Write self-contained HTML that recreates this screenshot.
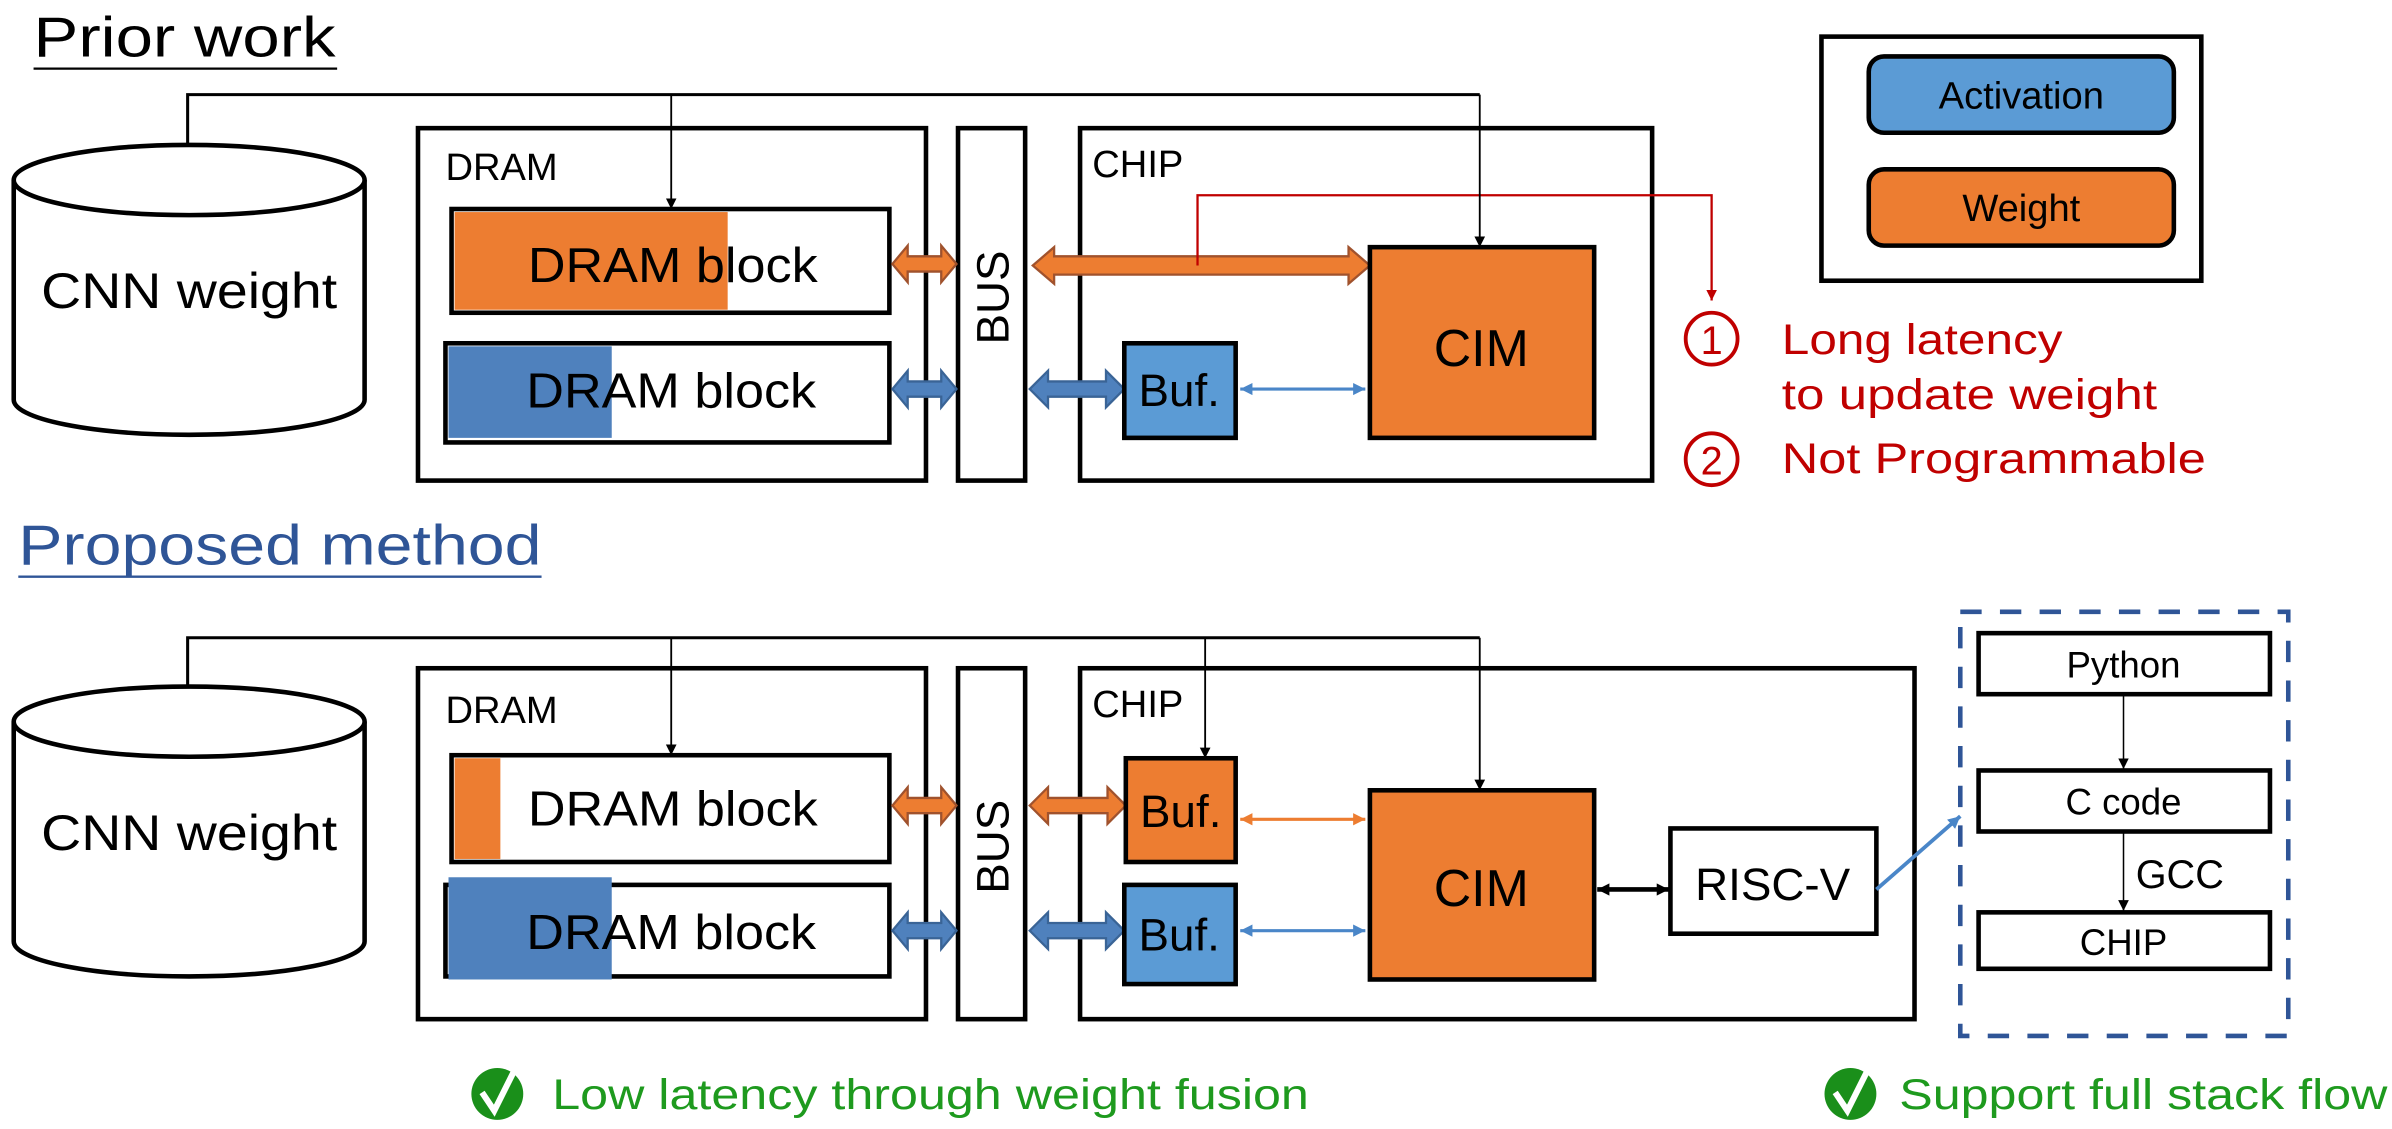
<!DOCTYPE html>
<html><head><meta charset="utf-8"><style>
html,body{margin:0;padding:0;background:#fff}
svg{display:block}
text{font-family:"Liberation Sans","DejaVu Sans",sans-serif}
</style></head><body>
<svg width="2392" height="1129" viewBox="0 0 1568 740" preserveAspectRatio="none" xmlns="http://www.w3.org/2000/svg">
<defs>
<marker id="ak" viewBox="0 0 10 10" refX="10" refY="5" markerWidth="7" markerHeight="9" orient="auto" markerUnits="userSpaceOnUse"><path d="M0,0L10,5L0,10z" fill="#000"/></marker>
<marker id="ar" viewBox="0 0 10 10" refX="10" refY="5" markerWidth="7" markerHeight="9" orient="auto" markerUnits="userSpaceOnUse"><path d="M0,0L10,5L0,10z" fill="#C00000"/></marker>
<marker id="ab" viewBox="0 0 10 10" refX="10" refY="5" markerWidth="8" markerHeight="10" orient="auto-start-reverse" markerUnits="userSpaceOnUse"><path d="M0,0L10,5L0,10z" fill="#4A86C8"/></marker>
<marker id="ao" viewBox="0 0 10 10" refX="10" refY="5" markerWidth="8" markerHeight="10" orient="auto-start-reverse" markerUnits="userSpaceOnUse"><path d="M0,0L10,5L0,10z" fill="#ED7D31"/></marker>
<marker id="akk" viewBox="0 0 10 10" refX="10" refY="5" markerWidth="8" markerHeight="10" orient="auto-start-reverse" markerUnits="userSpaceOnUse"><path d="M0,0L10,5L0,10z" fill="#000"/></marker>
</defs>

<!-- ===== Prior work ===== -->
<text x="22" y="37" font-size="37" textLength="198" lengthAdjust="spacingAndGlyphs">Prior work</text>
<line x1="22" y1="45" x2="221" y2="45" stroke="#000" stroke-width="1.5"/>

<path d="M9,118 V262 A115,23 0 0 0 239,262 V118" fill="#fff" stroke="#000" stroke-width="3"/>
<ellipse cx="124" cy="118" rx="115" ry="23" fill="#fff" stroke="#000" stroke-width="3"/>
<text x="124" y="202" font-size="33" text-anchor="middle" textLength="194" lengthAdjust="spacingAndGlyphs">CNN weight</text>

<rect x="274" y="84" width="333" height="231" fill="#fff" stroke="#000" stroke-width="3"/>
<text x="292" y="118" font-size="25">DRAM</text>
<rect x="296" y="137" width="287" height="68" fill="#fff" stroke="#000" stroke-width="3"/>
<rect x="298" y="139" width="179" height="64" fill="#ED7D31"/>
<text x="441" y="185" font-size="32" text-anchor="middle" textLength="190" lengthAdjust="spacingAndGlyphs">DRAM block</text>
<rect x="292" y="225" width="291" height="65" fill="#fff" stroke="#000" stroke-width="3"/>
<rect x="294" y="227" width="107" height="60" fill="#4F81BD"/>
<text x="440" y="267" font-size="32" text-anchor="middle" textLength="190" lengthAdjust="spacingAndGlyphs">DRAM block</text>

<rect x="628" y="84" width="44" height="231" fill="#fff" stroke="#000" stroke-width="3"/>
<text transform="translate(661,195) rotate(-90)" font-size="30" text-anchor="middle">BUS</text>

<rect x="708" y="84" width="375" height="231" fill="#fff" stroke="#000" stroke-width="3"/>
<text x="716" y="116" font-size="25">CHIP</text>

<polygon points="585,173 595,161 595,168 617,168 617,161 627,173 617,185 617,178 595,178 595,185" fill="#ED7D31" stroke="#A0522D" stroke-width="1.5"/>
<polygon points="677,174 691,162 691,168 884,168 884,162 898,174 884,186 884,180 691,180 691,186" fill="#ED7D31" stroke="#A0522D" stroke-width="1.5"/>
<polygon points="585,255 595,243 595,250 617,250 617,243 627,255 617,267 617,260 595,260 595,267" fill="#4F81BD" stroke="#3A6496" stroke-width="1.5"/>
<polygon points="675,255 687,243 687,250 725,250 725,243 737,255 725,267 725,260 687,260 687,267" fill="#4F81BD" stroke="#3A6496" stroke-width="1.5"/>

<rect x="737" y="225" width="73" height="62" fill="#5B9BD5" stroke="#000" stroke-width="3"/>
<text x="773" y="266" font-size="30" text-anchor="middle">Buf.</text>
<line x1="813" y1="255" x2="895" y2="255" stroke="#4A86C8" stroke-width="2" marker-start="url(#ab)" marker-end="url(#ab)"/>

<rect x="898" y="162" width="147" height="125" fill="#ED7D31" stroke="#000" stroke-width="3"/>
<text x="971" y="240" font-size="34" text-anchor="middle">CIM</text>

<polyline points="785,174 785,128 1122,128 1122,197" fill="none" stroke="#C00000" stroke-width="1.5" marker-end="url(#ar)"/>
<circle cx="1122" cy="222" r="17" fill="none" stroke="#C00000" stroke-width="2.5"/>
<text x="1122" y="232" font-size="26" fill="#C00000" text-anchor="middle">1</text>
<circle cx="1122" cy="301" r="17" fill="none" stroke="#C00000" stroke-width="2.5"/>
<text x="1122" y="311" font-size="26" fill="#C00000" text-anchor="middle">2</text>
<text x="1168" y="232" font-size="28" fill="#C00000" textLength="184" lengthAdjust="spacingAndGlyphs">Long latency</text>
<text x="1168" y="268" font-size="28" fill="#C00000" textLength="246" lengthAdjust="spacingAndGlyphs">to update weight</text>
<text x="1168" y="310" font-size="28" fill="#C00000" textLength="278" lengthAdjust="spacingAndGlyphs">Not Programmable</text>

<rect x="1194" y="24" width="249" height="160" fill="#fff" stroke="#000" stroke-width="3"/>
<rect x="1225" y="37" width="200" height="50" rx="10" fill="#5B9BD5" stroke="#000" stroke-width="3"/>
<text x="1325" y="71" font-size="25" text-anchor="middle">Activation</text>
<rect x="1225" y="111" width="200" height="50" rx="10" fill="#ED7D31" stroke="#000" stroke-width="3"/>
<text x="1325" y="145" font-size="25" text-anchor="middle">Weight</text>

<!-- top connectors (drawn on top) -->
<polyline points="123,95 123,62 970,62" fill="none" stroke="#000" stroke-width="2"/>
<line x1="440" y1="62" x2="440" y2="137" stroke="#000" stroke-width="1.2" marker-end="url(#ak)"/>
<line x1="970" y1="62" x2="970" y2="162" stroke="#000" stroke-width="1.2" marker-end="url(#ak)"/>

<!-- ===== Proposed ===== -->
<text x="12" y="370" font-size="37" fill="#2F5597" textLength="343" lengthAdjust="spacingAndGlyphs">Proposed method</text>
<line x1="12" y1="378" x2="355" y2="378" stroke="#2F5597" stroke-width="1.5"/>

<path d="M9,473 V617 A115,23 0 0 0 239,617 V473" fill="#fff" stroke="#000" stroke-width="3"/>
<ellipse cx="124" cy="473" rx="115" ry="23" fill="#fff" stroke="#000" stroke-width="3"/>
<text x="124" y="557" font-size="33" text-anchor="middle" textLength="194" lengthAdjust="spacingAndGlyphs">CNN weight</text>

<rect x="274" y="438" width="333" height="230" fill="#fff" stroke="#000" stroke-width="3"/>
<text x="292" y="474" font-size="25">DRAM</text>
<rect x="296" y="495" width="287" height="70" fill="#fff" stroke="#000" stroke-width="3"/>
<rect x="298" y="497" width="30" height="66" fill="#ED7D31"/>
<text x="441" y="541" font-size="32" text-anchor="middle" textLength="190" lengthAdjust="spacingAndGlyphs">DRAM block</text>
<rect x="292" y="580" width="291" height="60" fill="#fff" stroke="#000" stroke-width="3"/>
<rect x="294" y="575" width="107" height="67" fill="#4F81BD"/>
<text x="440" y="622" font-size="32" text-anchor="middle" textLength="190" lengthAdjust="spacingAndGlyphs">DRAM block</text>

<rect x="628" y="438" width="44" height="230" fill="#fff" stroke="#000" stroke-width="3"/>
<text transform="translate(661,555) rotate(-90)" font-size="30" text-anchor="middle">BUS</text>

<rect x="708" y="438" width="547" height="230" fill="#fff" stroke="#000" stroke-width="3"/>
<text x="716" y="470" font-size="25">CHIP</text>

<polygon points="585,528 595,516 595,523 617,523 617,516 627,528 617,540 617,533 595,533 595,540" fill="#ED7D31" stroke="#A0522D" stroke-width="1.5"/>
<polygon points="675,528 687,516 687,523 726,523 726,516 738,528 726,540 726,533 687,533 687,540" fill="#ED7D31" stroke="#A0522D" stroke-width="1.5"/>
<polygon points="585,610 595,598 595,605 617,605 617,598 627,610 617,622 617,615 595,615 595,622" fill="#4F81BD" stroke="#3A6496" stroke-width="1.5"/>
<polygon points="675,610 687,598 687,605 725,605 725,598 737,610 725,622 725,615 687,615 687,622" fill="#4F81BD" stroke="#3A6496" stroke-width="1.5"/>

<rect x="738" y="497" width="72" height="68" fill="#ED7D31" stroke="#000" stroke-width="3"/>
<text x="774" y="542" font-size="30" text-anchor="middle">Buf.</text>
<rect x="737" y="580" width="73" height="65" fill="#5B9BD5" stroke="#000" stroke-width="3"/>
<text x="773" y="623" font-size="30" text-anchor="middle">Buf.</text>
<line x1="813" y1="537" x2="895" y2="537" stroke="#ED7D31" stroke-width="2" marker-start="url(#ao)" marker-end="url(#ao)"/>
<line x1="813" y1="610" x2="895" y2="610" stroke="#4A86C8" stroke-width="2" marker-start="url(#ab)" marker-end="url(#ab)"/>

<rect x="898" y="518" width="147" height="124" fill="#ED7D31" stroke="#000" stroke-width="3"/>
<text x="971" y="594" font-size="34" text-anchor="middle">CIM</text>

<line x1="1047" y1="583" x2="1094" y2="583" stroke="#000" stroke-width="3" marker-start="url(#akk)" marker-end="url(#akk)"/>
<rect x="1095" y="543" width="135" height="69" fill="#fff" stroke="#000" stroke-width="3"/>
<text x="1162" y="590" font-size="30" text-anchor="middle">RISC-V</text>
<line x1="1230" y1="583" x2="1285" y2="535" stroke="#4A86C8" stroke-width="2.5" marker-end="url(#ab)"/>

<rect x="1285" y="401" width="215" height="278" fill="none" stroke="#2F5597" stroke-width="3" stroke-dasharray="14,12"/>
<rect x="1297" y="415" width="191" height="40" fill="#fff" stroke="#000" stroke-width="3"/>
<text x="1392" y="444" font-size="24" text-anchor="middle">Python</text>
<line x1="1392" y1="456" x2="1392" y2="504" stroke="#000" stroke-width="1" marker-end="url(#ak)"/>
<rect x="1297" y="505" width="191" height="40" fill="#fff" stroke="#000" stroke-width="3"/>
<text x="1392" y="534" font-size="24" text-anchor="middle">C code</text>
<line x1="1392" y1="546" x2="1392" y2="597" stroke="#000" stroke-width="1" marker-end="url(#ak)"/>
<text x="1400" y="582" font-size="26">GCC</text>
<rect x="1297" y="598" width="191" height="37" fill="#fff" stroke="#000" stroke-width="3"/>
<text x="1392" y="626" font-size="24" text-anchor="middle">CHIP</text>

<!-- lower connectors on top -->
<polyline points="123,450 123,418 970,418" fill="none" stroke="#000" stroke-width="2"/>
<line x1="440" y1="418" x2="440" y2="495" stroke="#000" stroke-width="1.2" marker-end="url(#ak)"/>
<line x1="790" y1="418" x2="790" y2="497" stroke="#000" stroke-width="1.2" marker-end="url(#ak)"/>
<line x1="970" y1="418" x2="970" y2="518" stroke="#000" stroke-width="1.2" marker-end="url(#ak)"/>

<!-- checks -->
<circle cx="326" cy="717" r="17" fill="#1A8F1A"/>
<path d="M316,716 L324,728 L338,700" fill="none" stroke="#fff" stroke-width="4"/>
<text x="362" y="727" font-size="28" fill="#1E9A1E" textLength="496" lengthAdjust="spacingAndGlyphs">Low latency through weight fusion</text>
<circle cx="1213" cy="717" r="17" fill="#1A8F1A"/>
<path d="M1203,716 L1211,728 L1225,700" fill="none" stroke="#fff" stroke-width="4"/>
<text x="1245" y="727" font-size="28" fill="#1E9A1E" textLength="320" lengthAdjust="spacingAndGlyphs">Support full stack flow</text>
</svg>
</body></html>
